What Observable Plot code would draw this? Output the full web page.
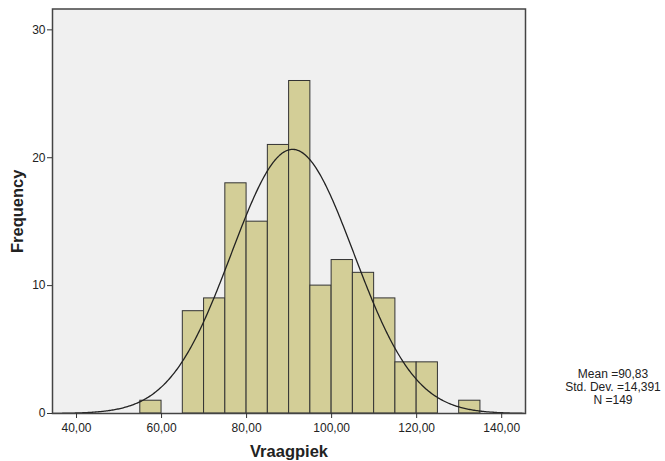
<!DOCTYPE html>
<html>
<head>
<meta charset="utf-8">
<script src="https://cdn.jsdelivr.net/npm/d3@7"></script>
<script src="https://cdn.jsdelivr.net/npm/@observablehq/plot@0.6"></script>
<style>
  html, body { margin: 0; padding: 0; background: #fff; }
  #wrap { position: relative; width: 665px; height: 461px; font-family: "Liberation Sans", Arial, sans-serif; }
  #stats { position: absolute; left: 553px; top: 368px; width: 120px; text-align: center; white-space: nowrap;
           font-size: 12px; line-height: 13px; color: #222; }
</style>
</head>
<body>
<div id="wrap"><div id="stats"></div></div>
<script>
// Histogram of Vraagpiek, bins of width 5
const binStarts = [55, 60, 65, 70, 75, 80, 85, 90, 95, 100, 105, 110, 115, 120, 125, 130];
const counts    = [ 1,  0,  8,  9, 18, 15, 21, 26, 10,  12,  11,   9,   4,   4,   0,   1];
const binWidth = 5;
const xTicks = [40, 60, 80, 100, 120, 140];
const yTicks = [0, 10, 20, 30];
const mean = 90.83, sd = 14.391, n = 149;

const bins = binStarts.map((x0, i) => ({x1: x0, x2: x0 + binWidth, count: counts[i]})).filter(d => d.count > 0);

// Fitted normal curve, scaled to counts per bin
const curve = d3.range(34.5, 145.5, 0.25).map(x => ({
  x,
  y: n * binWidth / (sd * Math.sqrt(2 * Math.PI)) * Math.exp(-0.5 * ((x - mean) / sd) ** 2)
}));

const fmt = d => d.toFixed(2).replace(".", ",");

const chart = Plot.plot({
  width: 665,
  height: 461,
  marginLeft: 52,
  marginRight: 140,
  marginTop: 8.5,
  marginBottom: 48,
  style: {fontFamily: "'Liberation Sans', Arial, sans-serif", fontSize: "12px", color: "#222", background: "#fff"},
  x: {domain: [34.35, 145.6]},
  y: {domain: [0, 31.63]},
  marks: [
    Plot.frame({fill: "#f0f0f0"}),
    Plot.rectY(bins, {x1: "x1", x2: "x2", y: "count", fill: "#d3ce97", stroke: "#333", strokeWidth: 1, inset: 0}),
    Plot.line(curve, {x: "x", y: "y", stroke: "#222", strokeWidth: 1.3, curve: "linear", clip: true}),
    Plot.frame({stroke: "#444", strokeWidth: 1.5}),
    Plot.axisX({ticks: xTicks, tickFormat: fmt, tickSize: 5, tickPadding: 5, label: null, stroke: "#333", fontSize: 12}),
    Plot.axisY({ticks: yTicks, tickFormat: d => d, tickSize: 5, tickPadding: 2, label: null, stroke: "#333", fontSize: 12}),
    Plot.text(["Vraagpiek"], {frameAnchor: "bottom", dy: 38, textAnchor: "middle", lineAnchor: "middle", fontWeight: "bold", fontSize: 16.5, fill: "#222"}),
    Plot.text(["Frequency"], {frameAnchor: "left", dx: -35, rotate: -90, textAnchor: "middle", lineAnchor: "middle", fontWeight: "bold", fontSize: 16.5, fill: "#222"})
  ]
});
document.getElementById("wrap").prepend(chart);
document.getElementById("stats").innerHTML =
  `Mean =${mean.toFixed(2).replace(".", ",")}<br>Std. Dev. =${String(sd).replace(".", ",")}<br>N =${n}`;
</script>
</body>
</html>
